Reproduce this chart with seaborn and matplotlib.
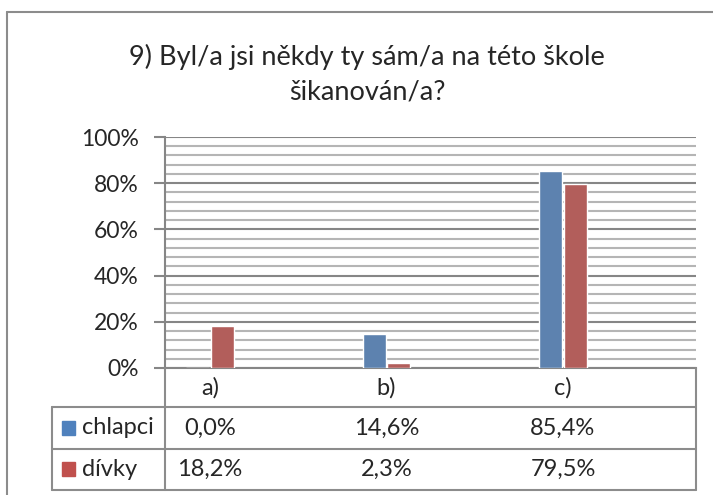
import pandas as pd
import matplotlib.pyplot as plt
import seaborn as sns
from matplotlib.lines import Line2D
from matplotlib.transforms import blended_transform_factory
from matplotlib.ticker import MultipleLocator, PercentFormatter

# Data
kategorie = ["a)", "b)", "c)"]
chlapci = [0.0, 14.6, 85.4]
divky = [18.2, 2.3, 79.5]
skupiny = ["chlapci", "dívky"]
barvy = ["#4F81BD", "#C0504D"]
titulek = "9) Byl/a jsi někdy ty sám/a na této škole\nšikanován/a?"

dados = pd.DataFrame({
    "kategorie": kategorie * 2,
    "hodnota": chlapci + divky,
    "skupina": [skupiny[0]] * 3 + [skupiny[1]] * 3,
})

sns.set_style("white")
plt.rcParams['font.family'] = ['Lato', 'DejaVu Sans']

W, H = 713, 495
fig = plt.figure(figsize=(W / 100, H / 100), dpi=100)

def px(x, y):
    return x / W, 1 - y / H

L, R, T, B = 165, 696, 137, 368
ax = fig.add_axes([L / W, 1 - B / H, (R - L) / W, (B - T) / H])

sns.barplot(data=dados, x="kategorie", y="hodnota", hue="skupina",
            palette=barvy, width=0.28, gap=0.06, edgecolor="white",
            linewidth=1, legend=False, ax=ax, zorder=3)

ax.set_xlim(-0.255, 2.754)
ax.set_ylim(0, 100)
ax.yaxis.set_major_locator(MultipleLocator(20))
ax.yaxis.set_minor_locator(MultipleLocator(4))
ax.yaxis.set_major_formatter(PercentFormatter(decimals=0))
ax.grid(True, which="major", axis="y", color="#868686", lw=1.5, zorder=0)
ax.grid(True, which="minor", axis="y", color="#b5b5b5", lw=1.5, zorder=0)
ax.set_xticks([])
ax.set_xlabel("")
ax.set_ylabel("")
for s in ["top", "right"]:
    ax.spines[s].set_visible(False)
ax.spines["left"].set_color("#868686")
ax.spines["left"].set_linewidth(1.5)
ax.spines["bottom"].set_color("#868686")
ax.spines["bottom"].set_linewidth(1.5)
ax.tick_params(axis="y", which="major", direction="out", length=8, width=1.5,
               color="#868686", labelsize=16.5, pad=11, left=True)
ax.tick_params(axis="y", which="minor", length=0)

fig.text(367 / W, 1 - 74 / H, titulek, ha="center", va="center",
         fontsize=19.5, linespacing=1.45)

# Data table
fs = 17
trans = blended_transform_factory(ax.transData, fig.transFigure)
for i, k in enumerate(kategorie):
    ax.text(i, 1 - 388 / H, k, transform=trans, ha="center", va="center", fontsize=fs)
    ax.text(i, 1 - 428 / H, f"{chlapci[i]:.1f}%".replace(".", ","), transform=trans,
            ha="center", va="center", fontsize=fs)
    ax.text(i, 1 - 469 / H, f"{divky[i]:.1f}%".replace(".", ","), transform=trans,
            ha="center", va="center", fontsize=fs)

for row_y, name, col in [(428, skupiny[0], barvy[0]), (469, skupiny[1], barvy[1])]:
    fig.patches.append(plt.Rectangle(px(62, row_y + 7), 13 / W, 14 / H,
                                     transform=fig.transFigure, color=col))
    fig.text(*px(82, row_y), name, ha="left", va="center", fontsize=fs)

lc = "#8c8c8c"
segs = [
    [(L, B), (L, 490)], [(R, B), (R, 490)],
    [(52, 407), (R, 407)], [(52, 449), (R, 449)], [(52, 490), (R, 490)],
    [(52, 407), (52, 490)],
    [(7, 495), (7, 12)], [(7, 12), (713, 12)],
]
for (x0, y0), (x1, y1) in segs:
    a, b = px(x0, y0)
    c, d = px(x1, y1)
    fig.add_artist(Line2D([a, c], [b, d], color=lc, lw=1.5, transform=fig.transFigure))

fig.savefig("out.png", dpi=100)
